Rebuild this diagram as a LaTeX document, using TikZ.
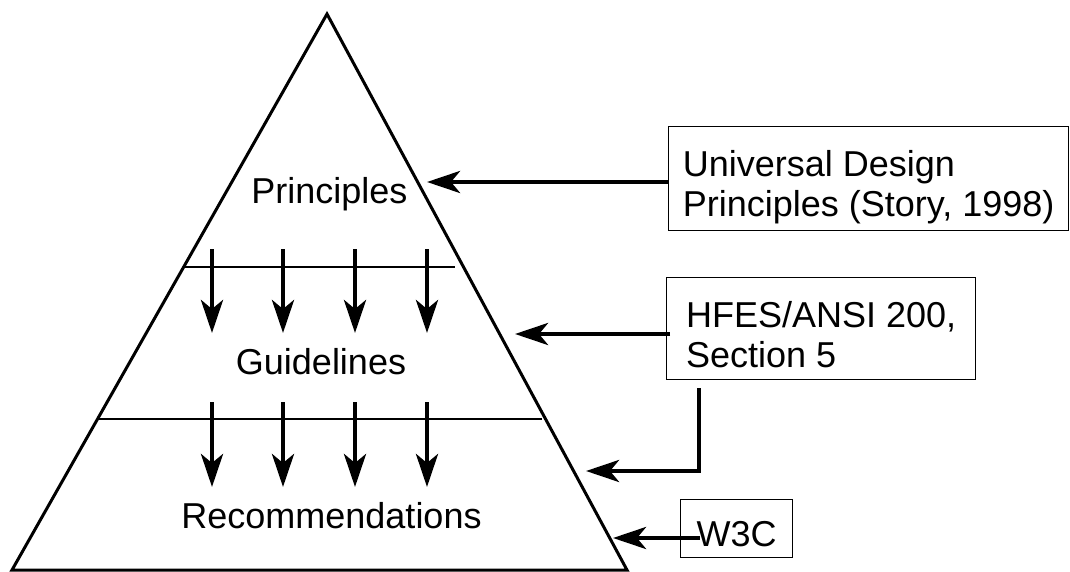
\documentclass[tikz,border=0pt]{standalone}
\usepackage{fontspec}
\setmainfont{Liberation Sans}
\usetikzlibrary{arrows.meta}
\begin{document}
\begin{tikzpicture}[x=1pt,y=-1pt,
  edge/.style={line width=3pt, line join=miter},
  divider/.style={line width=1.5pt},
  flow/.style={line width=4.5pt, -{Stealth[length=33pt,width=22pt,inset=9pt]}},
  label/.style={font=\fontsize{36}{40}\selectfont, anchor=base, inner sep=0pt},
  source/.style={draw, line width=1.4pt, font=\fontsize{36}{40}\selectfont,
    align=left, inner xsep=14pt, inner ysep=0pt, anchor=north west}]
\useasboundingbox (0,0) rectangle (1070,572);

% pyramid outline
\coordinate (apex) at (327,14);
\coordinate (bl) at (12,570);
\coordinate (br) at (627,570);
\draw[edge] (apex) -- (br) -- (bl) -- cycle;

% level dividers
\coordinate (d1l) at (185,267); \coordinate (d1r) at (455,267);
\coordinate (d2l) at (98,419);  \coordinate (d2r) at (542,419);
\draw[divider] (d1l) -- (d1r);
\draw[divider] (d2l) -- (d2r);

% level labels
\node[label] (pr) at (329.5,204) {Principles};
\node[label] (gl) at (321,374) {Guidelines};
\node[label] (rc) at (331.5,528) {Recommendations};

% downward derivation arrows
\foreach \x in {212,283,355,427} {
  \draw[flow] (\x,249) -- (\x,333);
  \draw[flow] (\x,402) -- (\x,487);
}

% sources (the struts push the text block slightly below centre)
\node[source, minimum width=400pt, minimum height=104pt] (ud) at (668,126)
  {\rule{0pt}{43pt}Universal Design\\Principles (Story, 1998)};
\node[source, minimum width=309pt, minimum height=102pt] (hf) at (666,277)
  {\rule{0pt}{38pt}HFES/ANSI 200,\\Section 5};
\node[source, minimum width=112pt, minimum height=58pt] (w3) at (680,499)
  {\rule{0pt}{36pt}W3C};

% arrow tips on the pyramid
\coordinate (tP) at (427,182);
\coordinate (tG) at (515,334);
\coordinate (tR) at (586,471);
\coordinate (tW) at (613,538);

\draw[flow] (ud.west |- tP) -- (tP);
\draw[flow] ([xshift=4pt]hf.west |- tG) -- (tG);
\draw[flow] ([xshift=33pt,yshift=-8pt]hf.south west) |- (tR);
\draw[flow] ([xshift=20pt]w3.west |- tW) -- (tW);
\end{tikzpicture}
\end{document}
